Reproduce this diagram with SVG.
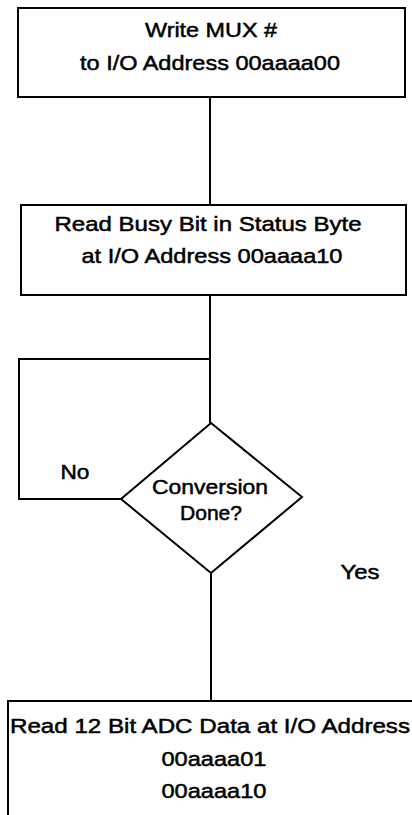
<svg xmlns="http://www.w3.org/2000/svg" width="412" height="815" viewBox="0 0 412 815">
<style>
.box{fill:#fff;stroke:#000;stroke-width:2}
.ln{fill:none;stroke:#000;stroke-width:2}
text{font-family:"Liberation Sans",Arial,sans-serif;font-size:21px;fill:#000;text-anchor:middle;stroke:#000;stroke-width:0.5}
</style>
<rect width="412" height="815" fill="#fff"/>
<g id="connectors">
<line class="ln" x1="210" y1="97" x2="210" y2="205"/>
<line class="ln" x1="210" y1="295" x2="210" y2="423"/>
<polyline class="ln" points="210,359 19,359 19,499 121,499"/>
<line class="ln" x1="211" y1="573" x2="211" y2="701"/>
</g>
<g id="n1">
<rect class="box" x="18" y="8" width="387" height="89"/>
<text x="211" y="37" textLength="132" lengthAdjust="spacingAndGlyphs">Write MUX #</text>
<text x="210" y="70" textLength="260" lengthAdjust="spacingAndGlyphs">to I/O Address 00aaaa00</text>
</g>
<g id="n2">
<rect class="box" x="21" y="205" width="385" height="90"/>
<text x="208" y="231" textLength="307" lengthAdjust="spacingAndGlyphs">Read Busy Bit in Status Byte</text>
<text x="212" y="263" textLength="261" lengthAdjust="spacingAndGlyphs">at I/O Address 00aaaa10</text>
</g>
<g id="n3">
<polygon class="box" points="211,423 302,497 211,573 121,499"/>
<text x="210" y="494" textLength="116" lengthAdjust="spacingAndGlyphs">Conversion</text>
<text x="211" y="520" textLength="62" lengthAdjust="spacingAndGlyphs">Done?</text>
</g>
<text x="75" y="479" textLength="29" lengthAdjust="spacingAndGlyphs">No</text>
<text x="360" y="579" textLength="39" lengthAdjust="spacingAndGlyphs">Yes</text>
<g id="n4">
<rect class="box" x="8" y="701" width="420" height="130"/>
<text x="210" y="733" textLength="400" lengthAdjust="spacingAndGlyphs">Read 12 Bit ADC Data at I/O Address</text>
<text x="214" y="766" textLength="105" lengthAdjust="spacingAndGlyphs">00aaaa01</text>
<text x="214" y="798" textLength="105" lengthAdjust="spacingAndGlyphs">00aaaa10</text>
</g>
</svg>
